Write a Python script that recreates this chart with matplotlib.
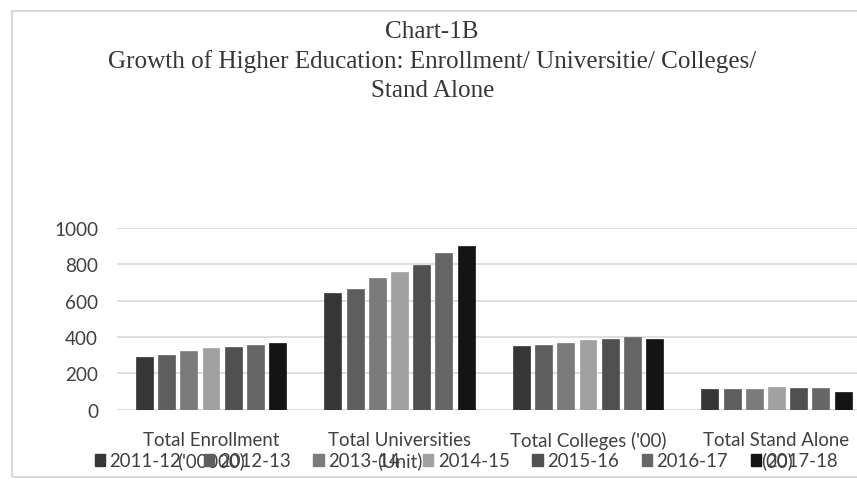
import matplotlib
matplotlib.use("Agg")
import matplotlib.pyplot as plt
import numpy as np
from matplotlib.patches import Rectangle, Patch

# Categories and yearly series
categories = ["Total Enrollment\n('00000)", "Total Universities\n(Unit)",
              "Total Colleges ('00)", "Total Stand Alone\n(00)"]
years = ["2011-12", "2012-13", "2013-14", "2014-15", "2015-16", "2016-17", "2017-18"]

values = {
    "2011-12": [291, 642, 348.5, 111.6],
    "2012-13": [301, 667, 355.3, 115.7],
    "2013-14": [323, 723, 366.3, 116.6],
    "2014-15": [342, 760, 385.0, 122.8],
    "2015-16": [346, 799, 390.7, 119.2],
    "2016-17": [357, 864, 400.3, 116.7],
    "2017-18": [366, 903, 390.5, 100.1],
}
colors = ["#363636", "#5e5e5e", "#7b7b7b", "#a1a1a1", "#505050", "#666666", "#141414"]

yticks = [0, 200, 400, 600, 800, 1000]

W, H = 857, 481
fig = plt.figure(figsize=(W / 100, H / 100), dpi=100)
fig.patch.set_facecolor("white")

# chart frame
fig.add_artist(Rectangle((12 / W, 3 / H), 1.0, (478 - 12) / H, transform=fig.transFigure,
                         fill=False, edgecolor="#d9d9d9", linewidth=1.5))

# plot area
ax_left, ax_right = 116.75, 870.75
ax_bottom, ax_top = 410.7, 229.0
ax = fig.add_axes([ax_left / W, (H - ax_bottom) / H, (ax_right - ax_left) / W, (ax_bottom - ax_top) / H])
ax.set_xlim(-0.5, len(categories) - 0.5)
ax.set_ylim(0, 1000)

x = np.arange(len(categories))
slot = 0.1178
bar_w = 0.090
n = len(years)
for i, (yr, col) in enumerate(zip(years, colors)):
    offs = (i - (n - 1) / 2) * slot
    ax.bar(x + offs, values[yr], width=bar_w, color=col, edgecolor=col, linewidth=0.5, zorder=3)

ax.set_yticks(yticks)
ax.set_yticklabels([str(v) for v in yticks])
ax.yaxis.grid(True, color="#d9d9d9", linewidth=1.2, zorder=0)
ax.set_axisbelow(True)
for s in ax.spines.values():
    s.set_visible(False)
ax.axhline(0, color="#d9d9d9", linewidth=1.2, zorder=1)

tick_font = dict(family=["Lato", "DejaVu Sans"], size=13.4, color="#404040")
ax.set_xticks(x)
ax.set_xticklabels(categories, **tick_font, linespacing=1.18)
for lab in ax.get_yticklabels():
    lab.set_fontfamily(["Lato", "DejaVu Sans"])
    lab.set_fontsize(13.6)
    lab.set_color("#404040")
ax.tick_params(axis="both", length=0)
ax.tick_params(axis="x", pad=15.5)
ax.tick_params(axis="y", pad=13.5)

# title lines
title_font = dict(family=["Liberation Serif", "DejaVu Serif"], size=18.1, color="#363636",
                  ha="center", va="baseline")
fig.text(432 / W, 1 - 38 / H, "Chart-1B", **title_font)
fig.text(432 / W, 1 - 68 / H, "Growth of Higher Education: Enrollment/ Universitie/ Colleges/", **title_font)
fig.text(433 / W, 1 - 97 / H, "Stand Alone", **title_font)

# legend
handles = [Patch(facecolor=c, edgecolor=c) for c in colors]
leg = fig.legend(handles, years, loc="center", bbox_to_anchor=(466 / W, 1 - 462 / H),
                 ncol=7, frameon=False, handlelength=0.55, handleheight=0.55,
                 handletextpad=0.25, columnspacing=1.22,
                 prop=dict(family=["Lato", "DejaVu Sans"], size=13.4))
for t in leg.get_texts():
    t.set_color("#404040")

fig.savefig("out.png", dpi=100, facecolor="white")
